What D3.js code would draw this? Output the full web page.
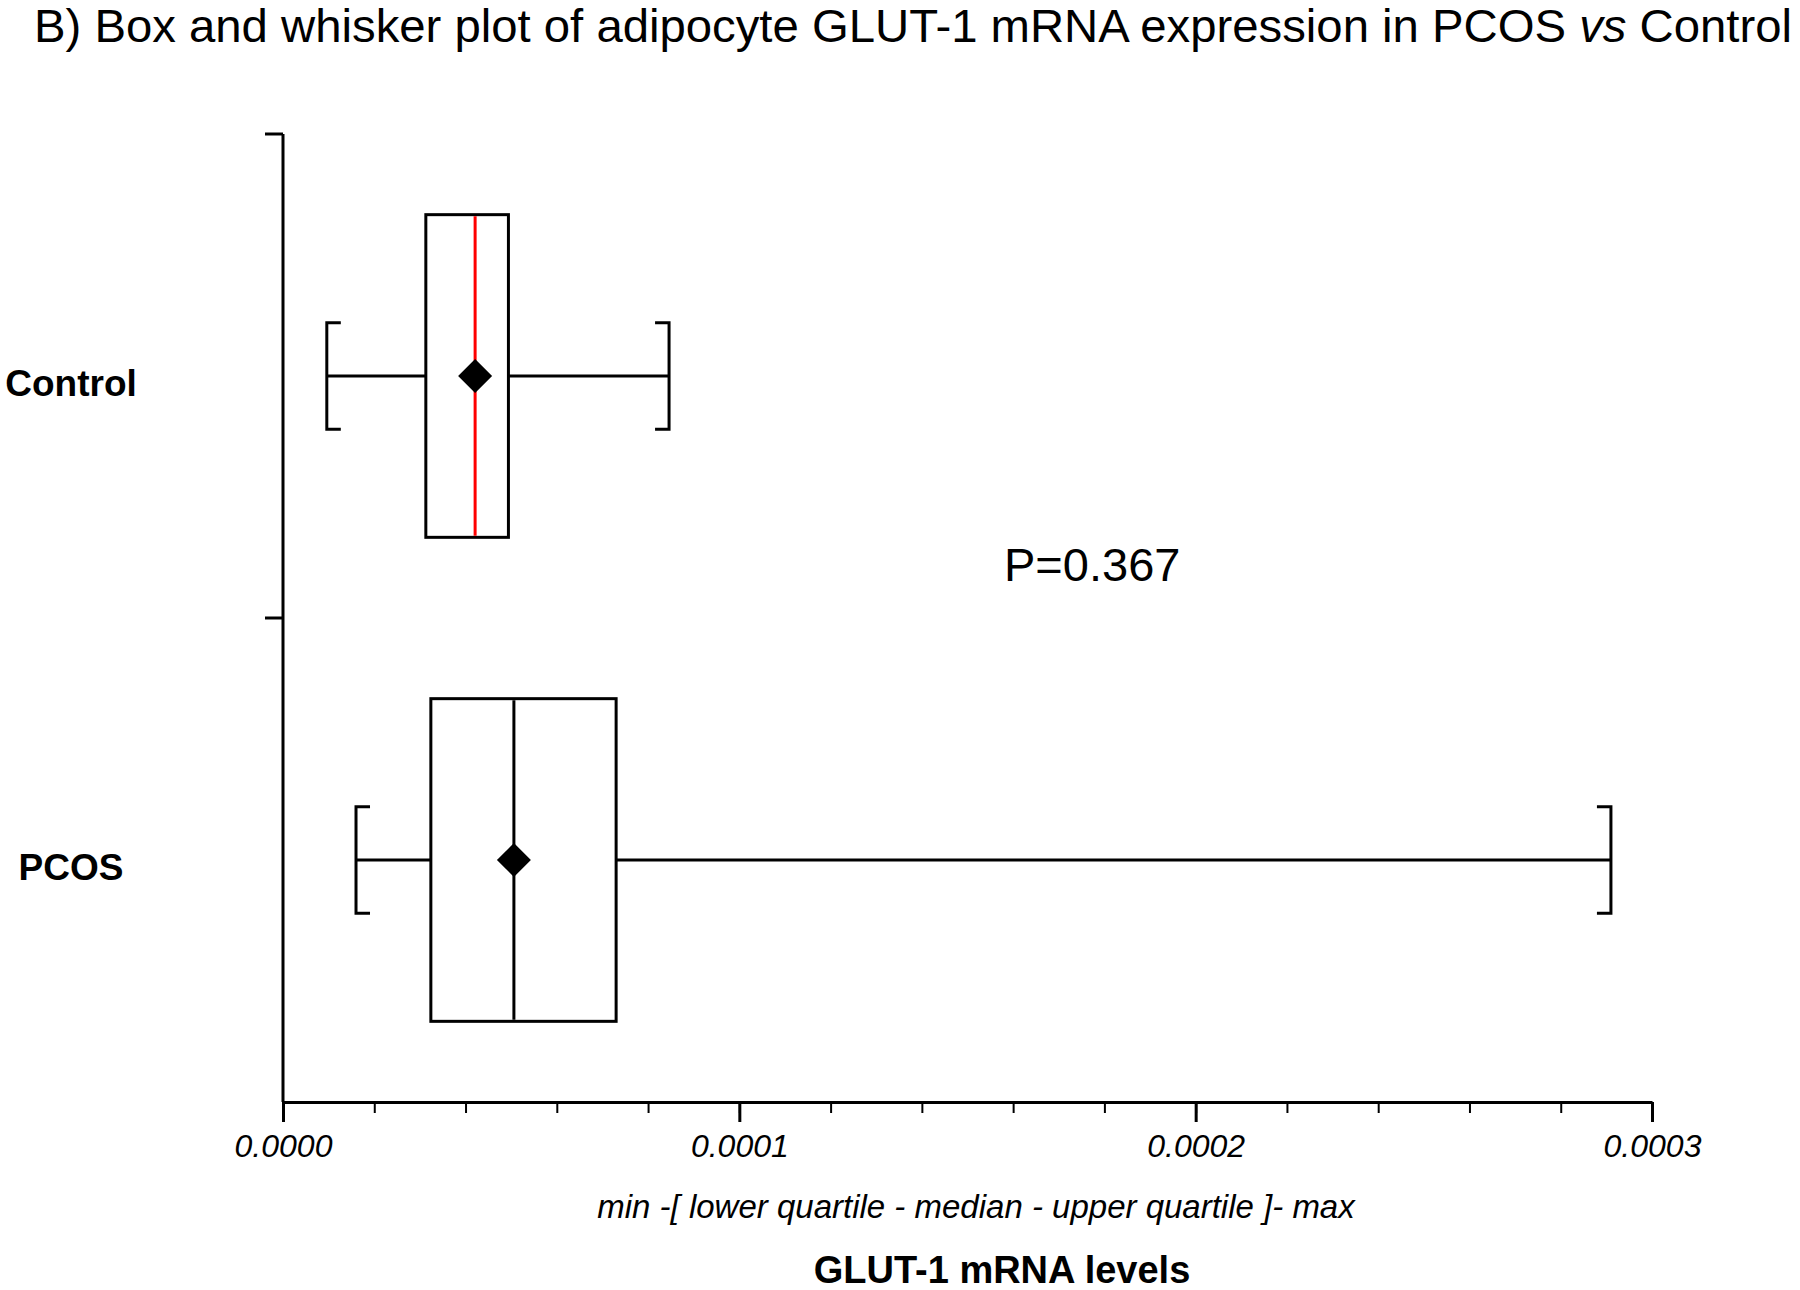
<!DOCTYPE html>
<html>
<head>
<meta charset="utf-8">
<script src="https://cdn.jsdelivr.net/npm/d3@7"></script>
<style>
  body { margin: 0; background: #fff; }
  text { font-family: "Liberation Sans", Arial, sans-serif; }
</style>
</head>
<body>
<div id="chart"></div>
<script>
/* Data */
const groups = ["Control", "PCOS"]
const mins = [0.0000096, 0.0000160]
const lowerQuartiles = [0.0000313, 0.0000324]
const medians = [0.0000421, 0.0000506]
const upperQuartiles = [0.0000494, 0.0000730]
const maxs = [0.0000846, 0.0002910]
const means = [0.0000421, 0.0000506]
const medianColors = ["#ff0000", "#000000"]
const majorTicks = [0, 0.0001, 0.0002, 0.0003]
const pLabel = "P=0.367"
/* End Data */

const width = 1800
const height = 1290
const margin = {top: 134, right: 148, bottom: 188, left: 283}

const svg = d3.select("#chart").append("svg")
    .attr("width", width)
    .attr("height", height)

const x = d3.scaleLinear()
    .domain([0, 0.0003])
    .range([margin.left, width - margin.right])

const y = d3.scaleBand()
    .domain(groups)
    .range([margin.top, height - margin.bottom])

const boxH = y.bandwidth() * 2 / 3
const capH = y.bandwidth() * 0.22
const stub = 14
const dia = 17

// title
const title = svg.append("text")
    .attr("x", 34)
    .attr("y", 42)
    .attr("font-size", 46)
    .attr("textLength", 1758)
    .attr("lengthAdjust", "spacingAndGlyphs")
title.append("tspan").text("B) Box and whisker plot of adipocyte GLUT-1 mRNA expression in PCOS ")
title.append("tspan").attr("font-style", "italic").text("vs")
title.append("tspan").text(" Control")

// x axis
const minorTicks = d3.range(0, 0.00030001, 0.00002)
svg.append("g")
    .attr("transform", `translate(0,${y.range()[1]})`)
    .call(d3.axisBottom(x).tickValues(minorTicks).tickSize(11).tickFormat(""))
    .call(g => g.select(".domain").remove())
    .call(g => g.selectAll("line").attr("stroke-width", 2))

const xAxis = svg.append("g")
    .attr("transform", `translate(0,${y.range()[1]})`)
    .call(d3.axisBottom(x).tickValues(majorTicks).tickSize(20).tickSizeOuter(0).tickFormat(d3.format(".4f")))
xAxis.select(".domain").attr("stroke-width", 3)
xAxis.selectAll("line").attr("stroke-width", 3)
xAxis.selectAll("text")
    .attr("y", 32)
    .attr("font-size", 32)
    .attr("font-style", "italic")
    .attr("font-family", "Liberation Sans, Arial, sans-serif")

// y axis
svg.append("line")
    .attr("x1", x(0)).attr("x2", x(0))
    .attr("y1", y.range()[0]).attr("y2", y.range()[1])
    .attr("stroke", "#000").attr("stroke-width", 3)

svg.selectAll(".ytick")
    .data(groups)
    .join("line")
    .attr("class", "ytick")
    .attr("x1", x(0) - 18).attr("x2", x(0))
    .attr("y1", d => y(d)).attr("y2", d => y(d))
    .attr("stroke", "#000").attr("stroke-width", 3)

svg.selectAll(".ylabel")
    .data(groups)
    .join("text")
    .attr("class", "ylabel")
    .attr("x", 71)
    .attr("y", d => y(d) + y.bandwidth() / 2 + 20)
    .attr("text-anchor", "middle")
    .attr("font-size", 37)
    .attr("font-weight", "bold")
    .text(d => d)

// boxes
const boxes = svg.selectAll(".box")
    .data(groups)
    .join("g")
    .attr("class", "box")
    .attr("stroke", "#000")
    .attr("stroke-width", 3)
    .attr("fill", "none")

const cy = d => y(d) + y.bandwidth() / 2

// whisker lines
boxes.append("line")
    .attr("x1", (d, i) => x(mins[i])).attr("x2", (d, i) => x(lowerQuartiles[i]))
    .attr("y1", cy).attr("y2", cy)
boxes.append("line")
    .attr("x1", (d, i) => x(upperQuartiles[i])).attr("x2", (d, i) => x(maxs[i]))
    .attr("y1", cy).attr("y2", cy)

// caps
boxes.append("path")
    .attr("d", (d, i) => {
      const cx = x(mins[i]), c = cy(d)
      return `M${cx + stub},${c - capH / 2}H${cx}V${c + capH / 2}H${cx + stub}`
    })
boxes.append("path")
    .attr("d", (d, i) => {
      const cx = x(maxs[i]), c = cy(d)
      return `M${cx - stub},${c - capH / 2}H${cx}V${c + capH / 2}H${cx - stub}`
    })

// box rect
boxes.append("rect")
    .attr("x", (d, i) => x(lowerQuartiles[i]))
    .attr("width", (d, i) => x(upperQuartiles[i]) - x(lowerQuartiles[i]))
    .attr("y", d => cy(d) - boxH / 2)
    .attr("height", boxH)
    .attr("fill", "#fff")

// median
boxes.append("line")
    .attr("x1", (d, i) => x(medians[i])).attr("x2", (d, i) => x(medians[i]))
    .attr("y1", d => cy(d) - boxH / 2 + 1.5).attr("y2", d => cy(d) + boxH / 2 - 1.5)
    .attr("stroke", (d, i) => medianColors[i])

// mean diamond
boxes.append("path")
    .attr("d", (d, i) => {
      const mx = x(means[i]), c = cy(d)
      return `M${mx},${c - dia}L${mx + dia},${c}L${mx},${c + dia}L${mx - dia},${c}Z`
    })
    .attr("fill", "#000")
    .attr("stroke", "none")

// p value
svg.append("text")
    .attr("x", 1004)
    .attr("y", 581)
    .attr("font-size", 47)
    .text(pLabel)

// axis titles
svg.append("text")
    .attr("x", 976)
    .attr("y", 1218)
    .attr("text-anchor", "middle")
    .attr("font-size", 33)
    .attr("font-style", "italic")
    .text("min -[ lower quartile - median - upper quartile ]- max")

svg.append("text")
    .attr("x", 1002)
    .attr("y", 1283)
    .attr("text-anchor", "middle")
    .attr("font-size", 38)
    .attr("font-weight", "bold")
    .text("GLUT-1 mRNA levels")
</script>
</body>
</html>
